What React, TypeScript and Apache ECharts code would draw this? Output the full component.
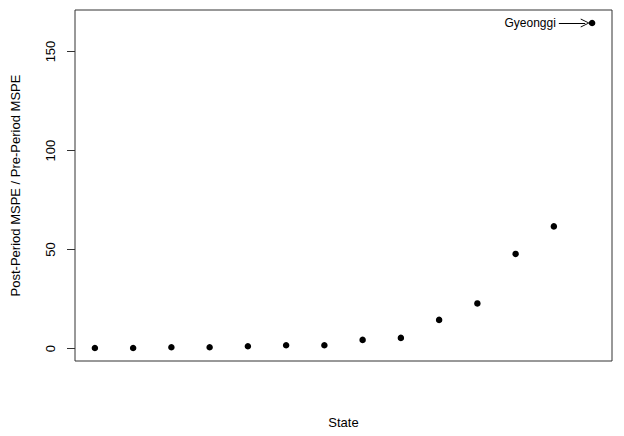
import React, { useEffect, useRef } from "react";
import * as echarts from "echarts";

const states: number[] = [1, 2, 3, 4, 5, 6, 7, 8, 9, 10, 11, 12, 13, 14];
const ratios: number[] = [0.3, 0.3, 0.7, 0.7, 1.2, 1.7, 1.7, 4.4, 5.4, 14.5, 22.8, 47.8, 61.7, 164.4];
const yTicks: number[] = [0, 50, 100, 150];
const highlightName = "Gyeonggi";
const arrowFrom = 13.13;
const arrowTo = 13.82;

export default function App() {
  const ref = useRef<HTMLDivElement>(null);
  useEffect(() => {
    if (!ref.current) return;
    const chart = echarts.init(ref.current, null, { renderer: "svg" });
    const font = "'Liberation Sans', Arial, sans-serif";
    const yMax = ratios[ratios.length - 1];
    const yMinData = Math.min(...ratios);
    const ext = (yMax - yMinData) * 0.04;
    const xExt = (states.length - 1) * 0.04;
    const data = states.map((s, i) => [s, ratios[i]]);
    chart.setOption({
      animation: false,
      grid: {
        left: 75,
        right: 12,
        top: 10,
        bottom: 75,
        show: true,
        borderColor: "#333",
        borderWidth: 1,
        backgroundColor: "transparent",
      },
      xAxis: {
        type: "value",
        min: 1 - xExt,
        max: states.length + xExt,
        name: "State",
        nameLocation: "middle",
        nameGap: 55,
        nameTextStyle: { fontFamily: font, fontSize: 13, color: "#000" },
        axisLine: { show: false },
        axisTick: { show: false },
        axisLabel: { show: false },
        splitLine: { show: false },
      },
      yAxis: {
        type: "value",
        min: yMinData - ext,
        max: yMax + ext,
        name: "Post-Period MSPE / Pre-Period MSPE",
        nameLocation: "middle",
        nameRotate: 90,
        nameGap: 53,
        nameTextStyle: { fontFamily: font, fontSize: 13, color: "#000" },
        axisLine: { show: false },
        axisTick: {
          show: true,
          customValues: yTicks,
          length: 8,
          lineStyle: { color: "#333" },
        },
        axisLabel: {
          show: true,
          customValues: yTicks,
          rotate: 90,
          margin: 18,
          fontFamily: font,
          fontSize: 13,
          color: "#000",
        },
        splitLine: { show: false },
      },
      series: [
        {
          type: "scatter",
          data,
          symbol: "circle",
          symbolSize: 6.5,
          itemStyle: { color: "#000", opacity: 1 },
          markLine: {
            silent: true,
            symbol: ["none", "path://M0,10 L5,0 L10,10 L9,10 L5,2 L1,10 Z"],
            symbolSize: [9, 9],
            lineStyle: { color: "#000", width: 1, type: "solid" },
            label: {
              show: true,
              position: "start",
              formatter: highlightName,
              fontFamily: font,
              fontSize: 12,
              color: "#000",
              distance: 3,
            },
            data: [[{ coord: [arrowFrom, yMax] }, { coord: [arrowTo, yMax] }]],
          },
        },
      ],
    });
    return () => chart.dispose();
  }, []);
  return (
    <div
      ref={ref}
      style={{ position: "fixed", left: 0, top: 0, width: 624, height: 436, background: "#fff" }}
    />
  );
}
